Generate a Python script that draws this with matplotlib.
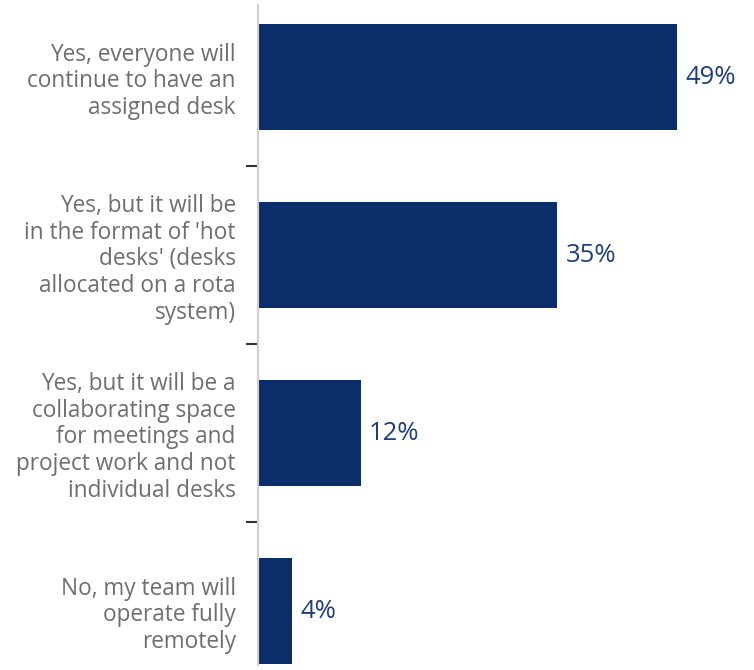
import matplotlib.pyplot as plt

categories = [
    "Yes, everyone will\ncontinue to have an\nassigned desk",
    "Yes, but it will be\nin the format of 'hot\ndesks' (desks\nallocated on a rota\nsystem)",
    "Yes, but it will be a\ncollaborating space\nfor meetings and\nproject work and not\nindividual desks",
    "No, my team will\noperate fully\nremotely",
]
values = [49, 35, 12, 4]
value_labels = ["49%", "35%", "12%", "4%"]

plt.rcParams['font.family'] = ['Open Sans', 'DejaVu Sans']

fig = plt.figure(figsize=(7.54, 6.7), dpi=100)
ax = fig.add_axes([258 / 754, 0, 1 - 258 / 754, 1])

pos = list(range(len(categories)))
ax.barh(pos, values, height=0.59, color='#0b2d69')
for p, v, lab in zip(pos, values, value_labels):
    ax.text(v + 1.0, p, lab, va='center', ha='left', fontsize=18.5, color='#1f3f7a')

ax.set_xlim(0, 58)
ax.set_ylim((670 - 77) / 178, -77 / 178)

for s in ['top', 'right', 'bottom']:
    ax.spines[s].set_visible(False)
ax.spines['left'].set_color('#d0d0d0')
ax.spines['left'].set_linewidth(1.5)
ax.spines['left'].set_bounds((665 - 77) / 178, (5 - 77) / 178)

ax.set_xticks([])
ax.set_yticks(pos)
ax.set_yticklabels(categories, fontsize=16.3, color='#6e6e6e', linespacing=1.15)
ax.tick_params(axis='y', which='major', length=0, pad=16)
ax.set_yticks([0.5, 1.5, 2.5], minor=True)
ax.tick_params(axis='y', which='minor', length=9, width=1.5, color='#333333')

fig.savefig('out.png', dpi=100)
